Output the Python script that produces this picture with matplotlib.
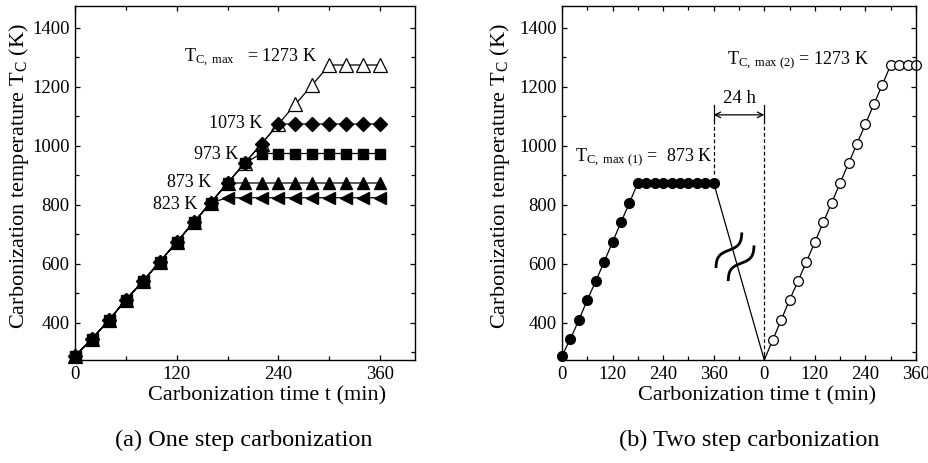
import numpy as np
import matplotlib.pyplot as plt
from matplotlib.ticker import MultipleLocator, FixedLocator

plt.rcParams['font.family'] = 'Liberation Serif'
plt.rcParams['mathtext.fontset'] = 'custom'
plt.rcParams['mathtext.rm'] = 'Liberation Serif'
plt.rcParams['mathtext.it'] = 'Liberation Serif:italic'

# ---- data, (a) one step carbonization ----
time_a = [0, 20, 40, 60, 80, 100, 120, 140, 160, 180, 200, 220, 240, 260, 280, 300, 320, 340, 360]
T_1273 = [287, 345, 408, 477, 540, 606, 673, 740, 806, 873, 940, 1006, 1073, 1140, 1206, 1273, 1273, 1273, 1273]
T_1073 = [287, 345, 408, 477, 540, 606, 673, 740, 806, 873, 940, 1006, 1073, 1073, 1073, 1073, 1073, 1073, 1073]
T_973 = [287, 345, 408, 477, 540, 606, 673, 740, 806, 873, 940, 973, 973, 973, 973, 973, 973, 973, 973]
T_873 = [287, 345, 408, 477, 540, 606, 673, 740, 806, 873, 873, 873, 873, 873, 873, 873, 873, 873, 873]
T_823 = [287, 345, 408, 477, 540, 606, 673, 740, 806, 823, 823, 823, 823, 823, 823, 823, 823, 823, 823]

# ---- data, (b) two step carbonization ----
gap = 480  # position of the second-step time origin on the axis
time_1 = [0, 20, 40, 60, 80, 100, 120, 140, 160, 180, 200, 220, 240, 260, 280, 300, 320, 340, 360]
T_step1 = [287, 345, 408, 477, 540, 606, 673, 740, 806, 873, 873, 873, 873, 873, 873, 873, 873, 873, 873]
time_2 = [0, 20, 40, 60, 80, 100, 120, 140, 160, 180, 200, 220, 240, 260, 280, 300, 320, 340, 360]
T_step2 = [273, 341, 408, 477, 540, 606, 673, 740, 806, 873, 940, 1006, 1073, 1140, 1206, 1273, 1273, 1273, 1273]
T_room = 273

fig = plt.figure(figsize=(9.29, 4.63), dpi=100)
W, H = 929, 463


def style(ax):
    for s in ax.spines.values():
        s.set_linewidth(1.0)
    ax.tick_params(which='both', direction='in', top=True, right=True,
                   labelsize=13.5, width=0.9, pad=4)
    ax.tick_params(which='major', length=3.5)
    ax.tick_params(which='minor', length=3)
    ax.set_ylim(273, 1473)
    ax.yaxis.set_major_locator(MultipleLocator(200))
    ax.yaxis.set_minor_locator(MultipleLocator(100))
    ax.set_ylabel('Carbonization temperature T$_{\\mathrm{C}}$ (K)', fontsize=16)
    ax.set_xlabel('Carbonization time t (min)', fontsize=16)


# ---------------- (a) ----------------
ax1 = fig.add_axes([75 / W, 1 - 360 / H, 340 / W, 354 / H])
lk = dict(color='black', lw=0.9, clip_on=False)
ax1.plot(time_a, T_1273, marker='^', ms=10, mfc='white', mec='black', mew=0.9, **lk)
ax1.plot(time_a, T_1073, marker='D', ms=7, mfc='black', mec='black', **lk)
ax1.plot(time_a, T_973, marker='s', ms=7, mfc='black', mec='black', **lk)
ax1.plot(time_a, T_873, marker='^', ms=9, mfc='black', mec='black', **lk)
ax1.plot(time_a, T_823, marker='<', ms=9, mfc='black', mec='black', **lk)
ax1.set_xlim(0, 401)
ax1.xaxis.set_major_locator(MultipleLocator(120))
ax1.xaxis.set_minor_locator(MultipleLocator(60))
style(ax1)

ax1.text(129, 1283, 'T$_{\\mathrm{C,\\ max}}$   = 1273 K', fontsize=13, va='baseline', ha='left')
ax1.text(221, 1058, '1073 K', fontsize=13, va='baseline', ha='right')
ax1.text(193, 956, '973 K', fontsize=13, va='baseline', ha='right')
ax1.text(161, 858, '873 K', fontsize=13, va='baseline', ha='right')
ax1.text(144, 786, '823 K', fontsize=13, va='baseline', ha='right')

# ---------------- (b) ----------------
ax2 = fig.add_axes([562 / W, 1 - 360 / H, 354 / W, 354 / H])
t2 = [t + gap for t in time_2]
ax2.plot(time_1, T_step1, marker='o', ms=7, mfc='black', mec='black', **lk)
ax2.plot([time_1[-1], t2[0]], [T_step1[-1], T_room], color='black', lw=0.9)
ax2.plot(t2[:2], T_step2[:2], color='black', lw=0.9)
ax2.plot(t2[1:], T_step2[1:], marker='o', ms=7, mfc='white', mec='black', mew=0.9, **lk)
ax2.set_xlim(0, 840)
ax2.xaxis.set_major_locator(FixedLocator([0, 120, 240, 360, 480, 600, 720, 840]))
ax2.xaxis.set_minor_locator(MultipleLocator(60))
ax2.set_xticklabels(['0', '120', '240', '360', '0', '120', '240', '360'])
style(ax2)

# 24 h interval marker
ax2.plot([360, 360], [905, 1079], color='black', lw=0.9, ls=(0, (3, 2)))
ax2.plot([gap, gap], [290, 1079], color='black', lw=0.9, ls=(0, (3, 2)))
ax2.plot([360, 360], [1079, 1137], color='black', lw=0.9)
ax2.plot([gap, gap], [1079, 1137], color='black', lw=0.9)
ax2.annotate('', xy=(gap, 1104), xytext=(360, 1104),
             arrowprops=dict(arrowstyle='<->', lw=0.9, color='black', shrinkA=0, shrinkB=0))
ax2.text(422, 1145, '24 h', fontsize=13.5, ha='center', va='baseline')

# axis-break symbol on the cooling line
sx = 354 / 840.0   # px per min
sy = 354 / 1200.0  # px per K
ang = np.deg2rad(54)
u = np.array([np.cos(ang), np.sin(ang)])
n = np.array([np.sin(ang), -np.cos(ang)])
s = np.linspace(-1, 1, 60)
for cx, cy in [(396, 645), (425, 601)]:
    px = s * 22 * u[0] + 4.5 * np.sin(np.pi * s) * n[0]
    py = s * 22 * u[1] + 4.5 * np.sin(np.pi * s) * n[1]
    ax2.plot(cx + px / sx, cy + py / sy, color='black', lw=2.0, solid_capstyle='butt')

ax2.text(31, 948, 'T$_{\\mathrm{C,\\ max\\ (1)}}$ =  873 K', fontsize=13, va='baseline', ha='left')
ax2.text(391, 1277, 'T$_{\\mathrm{C,\\ max\\ (2)}}$ = 1273 K', fontsize=13, va='baseline', ha='left')

ax1.yaxis.set_label_coords(-0.13, 0.52)
ax2.yaxis.set_label_coords(-0.14, 0.52)
ax1.xaxis.set_label_coords(0.565, -0.075)
ax2.xaxis.set_label_coords(0.551, -0.075)

fig.text(244 / W, 1 - 440 / H, '(a) One step carbonization', fontsize=17.5, ha='center', va='center')
fig.text(749 / W, 1 - 440 / H, '(b) Two step carbonization', fontsize=17.5, ha='center', va='center')

fig.savefig('out.png', dpi=100)
